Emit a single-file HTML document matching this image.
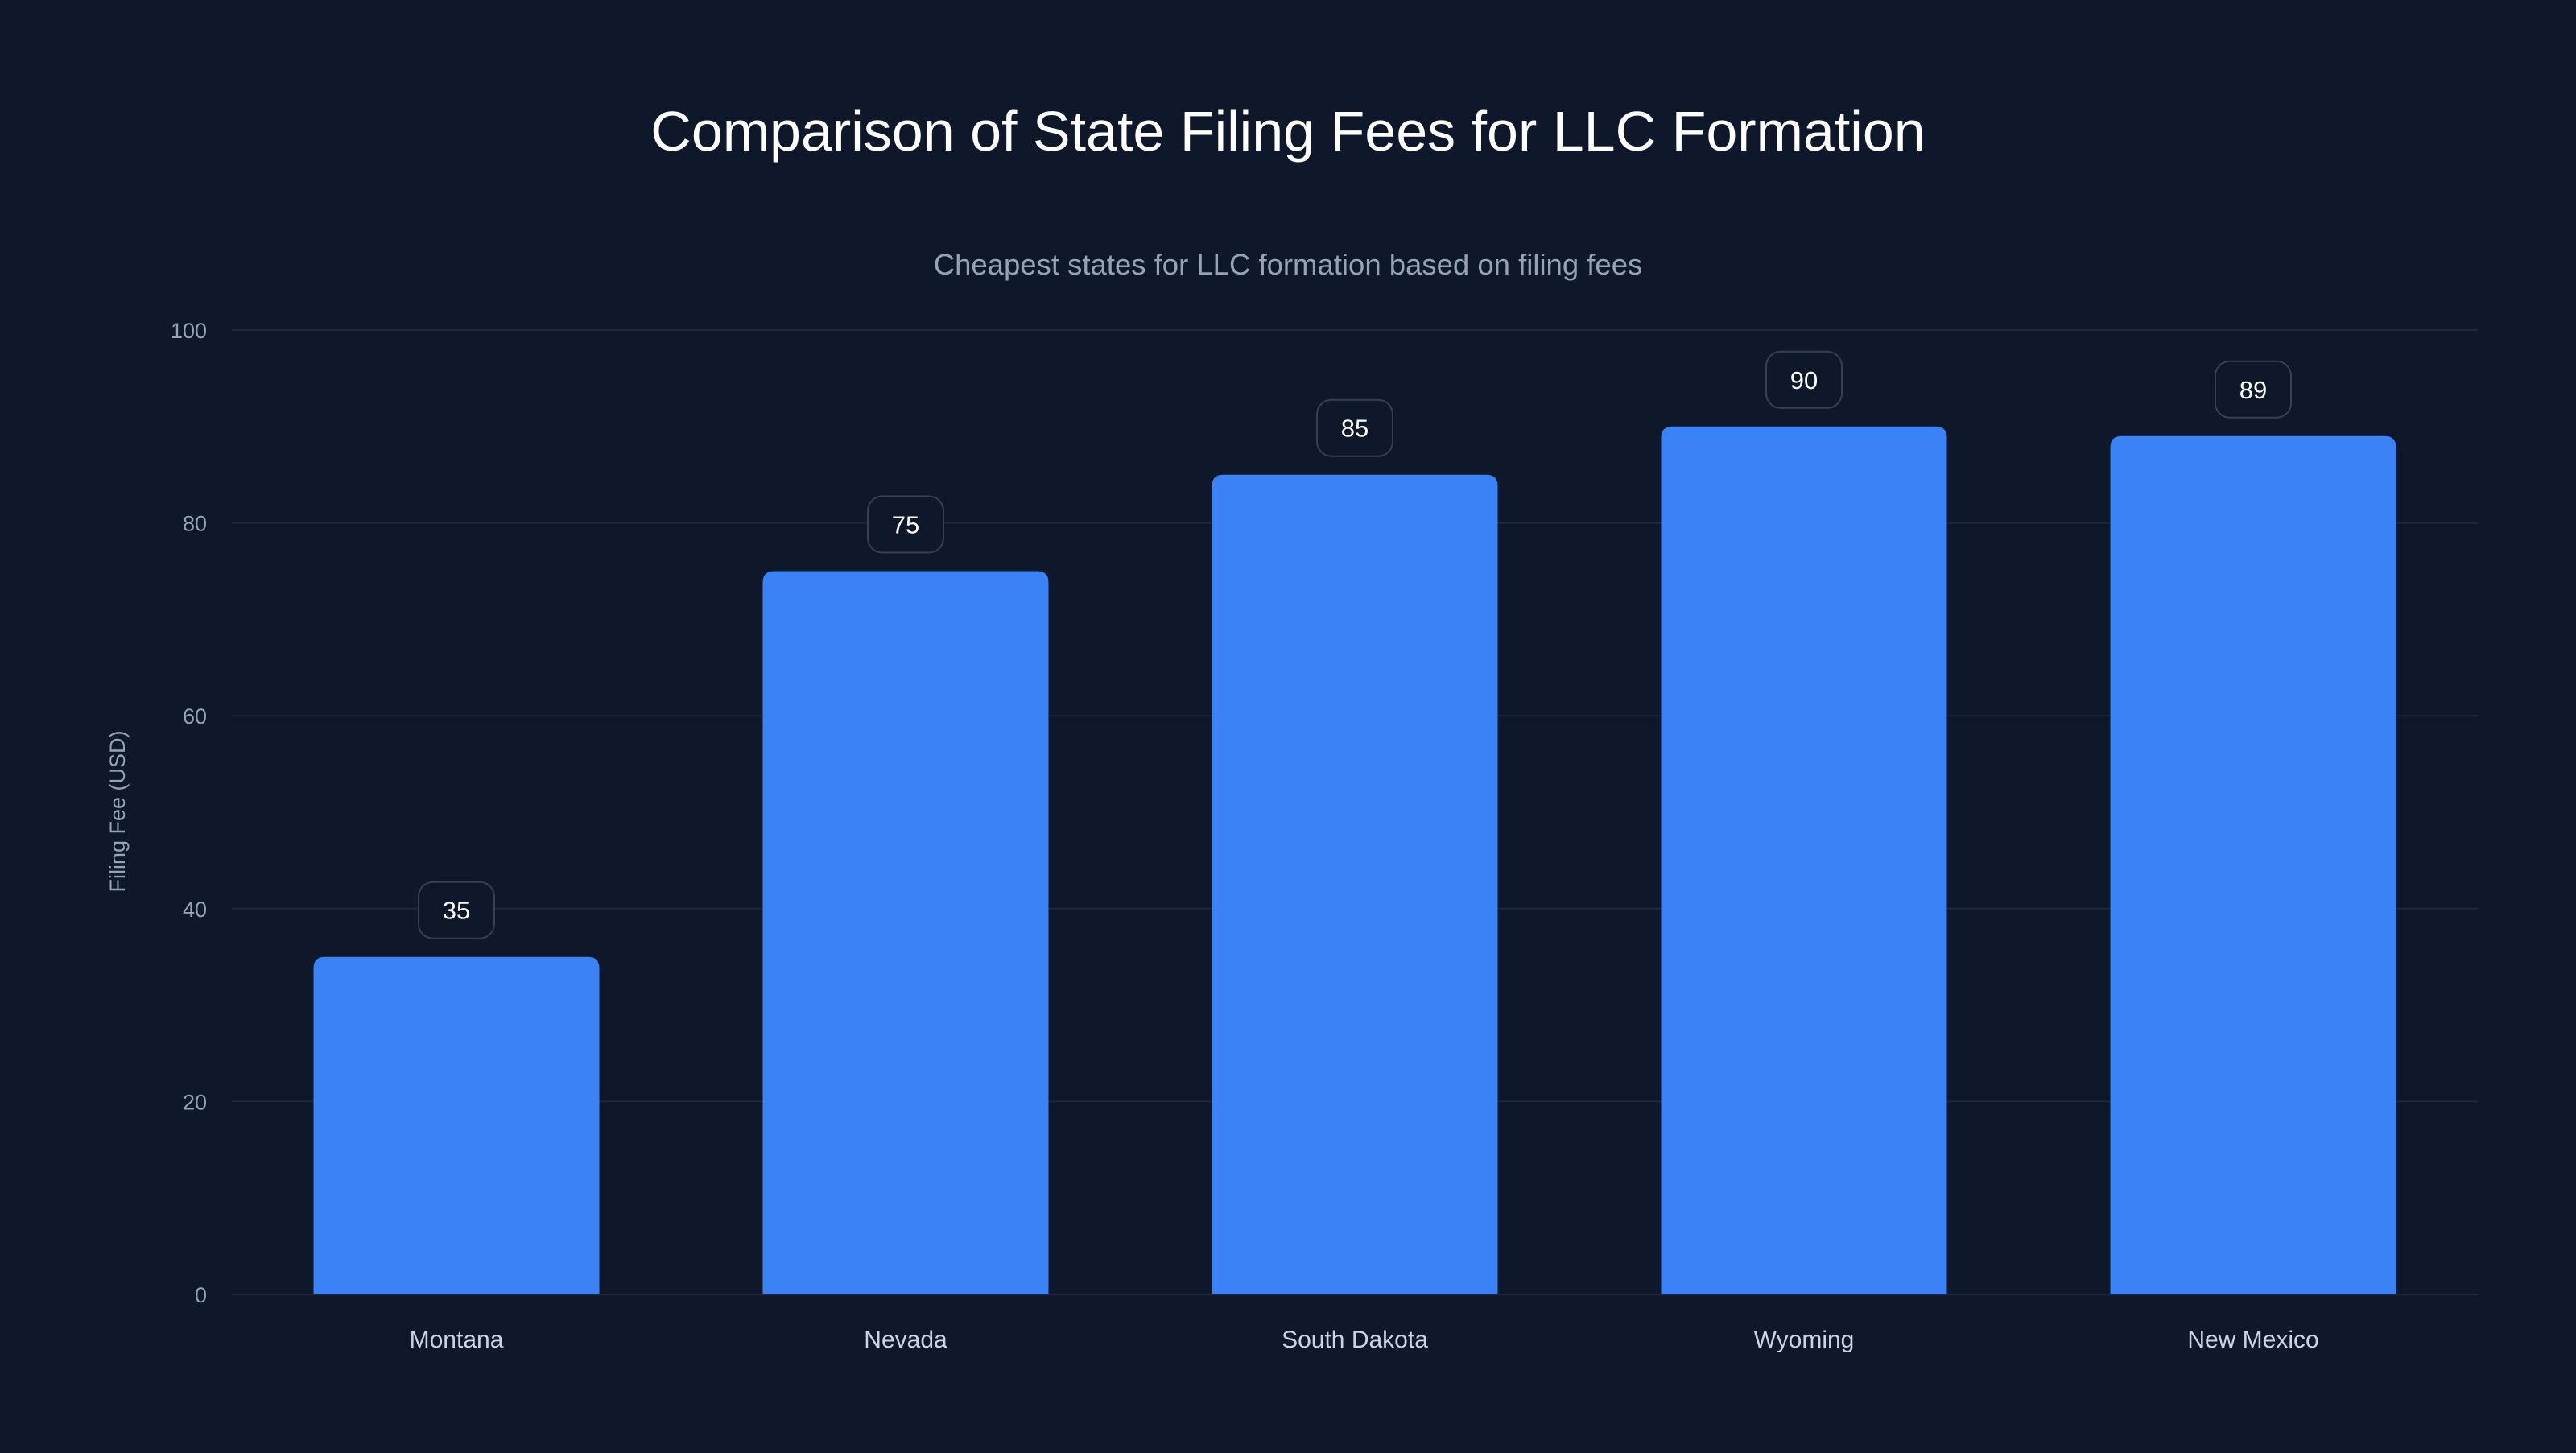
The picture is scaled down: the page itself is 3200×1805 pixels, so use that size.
<!DOCTYPE html>
<html><head><meta charset="utf-8"><style>
html,body{margin:0;padding:0;background:#0f172a;}
svg text{font-family:"Liberation Sans",sans-serif;}
</style></head><body>
<svg id="chart" width="3200" height="1800" xmlns="http://www.w3.org/2000/svg">
<rect width="3200" height="1800" fill="#0f172a"/>
<text x="1600" y="187" text-anchor="middle" font-size="70" fill="#ffffff">Comparison of State Filing Fees for LLC Formation</text>
<text x="1600" y="341" text-anchor="middle" font-size="36.5" fill="#94a3b8">Cheapest states for LLC formation based on filing fees</text>
<text transform="translate(155,1008) rotate(-90)" text-anchor="middle" font-size="27" fill="#94a3b8">Filing Fee (USD)</text>
<g id="grid"></g><g id="bars"></g>
</svg>
<script>
const categories = ["Montana","Nevada","South Dakota","Wyoming","New Mexico"];
const values = [35,75,85,90,89];
const yTicks = [0,20,40,60,80,100];
const NS="http://www.w3.org/2000/svg";
const L=288,R=3078,T=410,B=1608,yMax=100;
const y=v=>B-(v/yMax)*(B-T);
const band=(R-L)/categories.length;
const x=i=>L+band*i+band/2;
const bw=355;
function mk(tag,attrs,parent){const e=document.createElementNS(NS,tag);for(const k in attrs)e.setAttribute(k,attrs[k]);parent.appendChild(e);return e;}
const grid=document.getElementById('grid'),bars=document.getElementById('bars');
yTicks.forEach(t=>{
  const l=mk('line',{x1:L,x2:R,y1:y(t),y2:y(t),stroke:'#1e293b','stroke-width':2},grid);
  
  
  const tx=mk('text',{x:257,y:y(t)+10,'text-anchor':'end','font-size':27,fill:'#94a3b8'},grid);
  tx.textContent=t;
  
  
});
categories.forEach((c,i)=>{
  const v=values[i],cx=x(i),top=y(v),r=14,x0=cx-bw/2,x1=cx+bw/2;
  const p=mk('path',{d:`M${x0},${B}V${top+r}Q${x0},${top} ${x0+r},${top}H${x1-r}Q${x1},${top} ${x1},${top+r}V${B}Z`,fill:'#3b82f6'},bars);
  
  
  const bx=mk('rect',{x:cx-47,y:top-93,width:94,height:70,rx:18,fill:'#0f172a',stroke:'#334155','stroke-width':2},bars);
  
  
  const vt=mk('text',{x:cx,y:top-47,'text-anchor':'middle','font-size':31,fill:'#ffffff'},bars);
  vt.textContent=v;
  
  
  const ct=mk('text',{x:cx,y:1674,'text-anchor':'middle','font-size':30,fill:'#cbd5e1'},bars);
  ct.textContent=c;
  
  
});
</script>
</body></html>
